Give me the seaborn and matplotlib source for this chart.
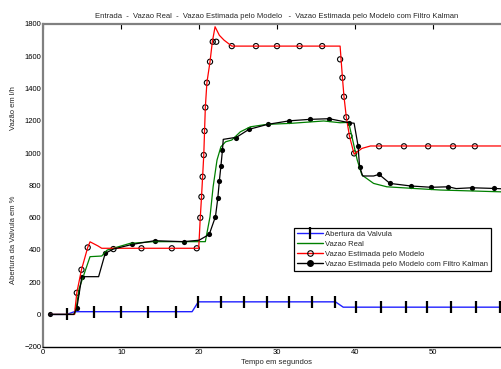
import numpy as np
import pandas as pd
import seaborn as sns
import matplotlib
matplotlib.use('Agg')
import matplotlib.pyplot as plt
from matplotlib.lines import Line2D

# abertura da valvula (entrada)
valvula_t = [0.9, 3.0, 4.0, 19.1, 19.9, 37.5, 38.5, 60.0]
valvula_v = [0, 0, 17, 17, 78, 78, 45, 45]
valvula_mk_t = [3.0, 6.5, 10.0, 13.4, 17.0, 19.9, 22.8, 25.7, 28.7, 31.5, 34.5, 37.5,
                40.2, 43.4, 46.5, 49.3, 52.4, 55.5, 58.6]

# vazao real
real_t = [0.9, 4.0, 4.2, 4.6, 6.0, 7.5, 8.2, 11.1, 14.1, 20.8, 21.4, 21.8, 22.3, 22.8, 23.4,
          24.2, 25.3, 26.6, 28.7, 31.7, 36.0, 38.1, 39.2, 40.3, 40.9, 42.4, 44.1, 47.5, 51.0, 60.0]
real_v = [0, 0, 30, 160, 358, 362, 399, 440, 451, 451, 605, 791, 957, 1039, 1070,
          1081, 1132, 1163, 1178, 1184, 1199, 1188, 1190, 957, 864, 812, 791, 781, 771, 758]

# vazao estimada pelo modelo
modelo_t = [0.9, 4.0, 4.3, 4.9, 5.7, 6.0, 7.0, 7.5, 19.95, 20.15, 20.3, 20.45, 20.6, 20.7,
            20.8, 21.0, 21.4, 21.7, 22.05, 22.6, 23.2, 24.2, 38.1, 38.4, 38.6, 38.9, 39.3,
            39.9, 40.9, 42.0, 60.0]
modelo_v = [0, 0, 134, 277, 415, 450, 425, 410, 410, 599, 720, 853, 988, 1137,
            1283, 1436, 1566, 1690, 1783, 1730, 1700, 1663, 1663, 1467, 1349, 1222, 1106,
            993, 1029, 1044, 1044]
modelo_mk_t = [4.3, 4.9, 5.7, 9.0, 12.6, 16.5, 19.7, 20.15, 20.3, 20.45, 20.6, 20.7, 20.8,
               21.0, 21.4, 21.75, 22.2, 24.2, 27.3, 30.0, 32.9, 35.8, 38.1, 38.4, 38.6,
               38.9, 39.3, 39.9, 43.1, 46.3, 49.4, 52.6, 55.4]
modelo_mk_v = [134, 277, 415, 405, 410, 410, 410, 599, 729, 853, 988, 1137, 1283,
               1436, 1566, 1690, 1690, 1663, 1663, 1663, 1663, 1663, 1581, 1467, 1349,
               1222, 1106, 998, 1042, 1042, 1042, 1042, 1042]

# vazao estimada pelo modelo com filtro de Kalman
kalman_t = [0.9, 3.9, 4.3, 4.95, 7.1, 7.95, 9.0, 11.4, 14.3, 18.0, 20.0, 21.3, 22.1, 22.4,
            22.6, 22.8, 23.0, 23.1, 24.4, 24.7, 26.4, 28.8, 31.6, 34.2, 36.7, 39.3, 39.9,
            40.4, 40.6, 41.0, 42.4, 43.1, 44.5, 47.2, 49.8, 52.0, 53.0, 55.0, 57.8, 60.0]
kalman_v = [0, 0, 38, 234, 234, 379, 405, 434, 457, 451, 460, 496, 606, 720,
            827, 920, 1019, 1085, 1095, 1095, 1147, 1178, 1200, 1209, 1213, 1188, 1185,
            1046, 916, 858, 858, 868, 812, 796, 788, 791, 780, 785, 781, 776]
kalman_mk_t = [0.9, 4.3, 4.95, 7.95, 11.4, 14.3, 18.0, 21.3, 22.1, 22.4, 22.6, 22.8, 23.0,
               24.7, 26.4, 28.8, 31.6, 34.2, 36.7, 39.3, 40.4, 40.6, 43.1, 44.5, 47.2,
               49.8, 52.0, 55.0, 57.8]
kalman_mk_v = [0, 38, 234, 379, 434, 457, 451, 496, 606, 720, 827, 920, 1019,
               1095, 1147, 1178, 1200, 1209, 1213, 1188, 1046, 916, 868, 812, 796,
               788, 791, 785, 781]

labels = ['Abertura da Valvula', 'Vazao Real', 'Vazao Estimada pelo Modelo',
          'Vazao Estimada pelo Modelo com Filtro Kalman']

sns.set_style('white')
plt.rcParams['font.family'] = ['Liberation Sans', 'DejaVu Sans']
fs = 5.5

fig = plt.figure(figsize=(5.02, 3.69), dpi=100)
ax = fig.add_axes([43.3 / 502, 1 - 346.7 / 369, 467.4 / 502, 322.7 / 369])

valv_mk_v = np.interp(valvula_mk_t, valvula_t, valvula_v)

sns.lineplot(x=valvula_t, y=valvula_v, color='#2020ff', lw=1, sort=False, ax=ax)
ax.plot(valvula_mk_t, valv_mk_v, ls='none', marker='|', ms=8, mew=1.6, color='black')
sns.lineplot(x=real_t, y=real_v, color='#008000', lw=0.9, sort=False, ax=ax)
sns.lineplot(x=modelo_t, y=modelo_v, color='red', lw=0.9, sort=False, ax=ax)
sns.scatterplot(x=modelo_mk_t, y=modelo_mk_v, marker='o', s=14, facecolor='none',
                edgecolor='black', linewidth=0.8, ax=ax)
sns.lineplot(x=kalman_t, y=kalman_v, color='black', lw=0.9, sort=False, ax=ax)
sns.scatterplot(x=kalman_mk_t, y=kalman_mk_v, marker='o', s=14, color='black',
                edgecolor='black', linewidth=0, ax=ax)

ax.set_xlim(0, 60)
ax.set_ylim(-200, 1800)
ax.set_xticks(range(0, 60, 10))
ax.set_yticks(range(-200, 1801, 200))
ax.tick_params(direction='in', length=3.5, width=0.8, labelsize=fs, pad=1.5,
               top=True, right=True, colors='black')
for s in ['left', 'top']:
    ax.spines[s].set_color('#808080')
    ax.spines[s].set_linewidth(1.6)
ax.spines['bottom'].set_color('black')
ax.spines['bottom'].set_linewidth(1)
ax.spines['right'].set_visible(False)

ax.set_title('Entrada  -  Vazao Real  -  Vazao Estimada pelo Modelo   -  Vazao Estimada pelo Modelo com Filtro Kalman',
             fontsize=fs, pad=4)
ax.set_xlabel('Tempo em segundos', fontsize=fs, labelpad=2)
fig.text(14 / 502, 1 - 108 / 369, 'Vazão em l/h', rotation=90, fontsize=fs, ha='center', va='center')
fig.text(14 / 502, 1 - 240 / 369, 'Abertura da Valvula em %', rotation=90, fontsize=fs,
         ha='center', va='center')

handles = [
    Line2D([0], [0], color='#2020ff', lw=1, marker='|', ms=8, mew=1.6, mec='black'),
    Line2D([0], [0], color='#008000', lw=1),
    Line2D([0], [0], color='red', lw=1, marker='o', ms=4, mfc='none', mec='black', mew=0.8),
    Line2D([0], [0], color='black', lw=1, marker='o', ms=4, mfc='black', mec='black'),
]
leg = ax.legend(handles, labels, loc='upper left', bbox_to_anchor=(294 / 502, 1 - 228 / 369),
                bbox_transform=fig.transFigure, fontsize=fs, handlelength=3.4,
                handletextpad=0.3, labelspacing=0.35, borderpad=0.35, borderaxespad=0,
                numpoints=1, fancybox=False, framealpha=1)
leg.get_frame().set_edgecolor('black')
leg.get_frame().set_linewidth(0.9)

fig.savefig('out.png', dpi=100)
